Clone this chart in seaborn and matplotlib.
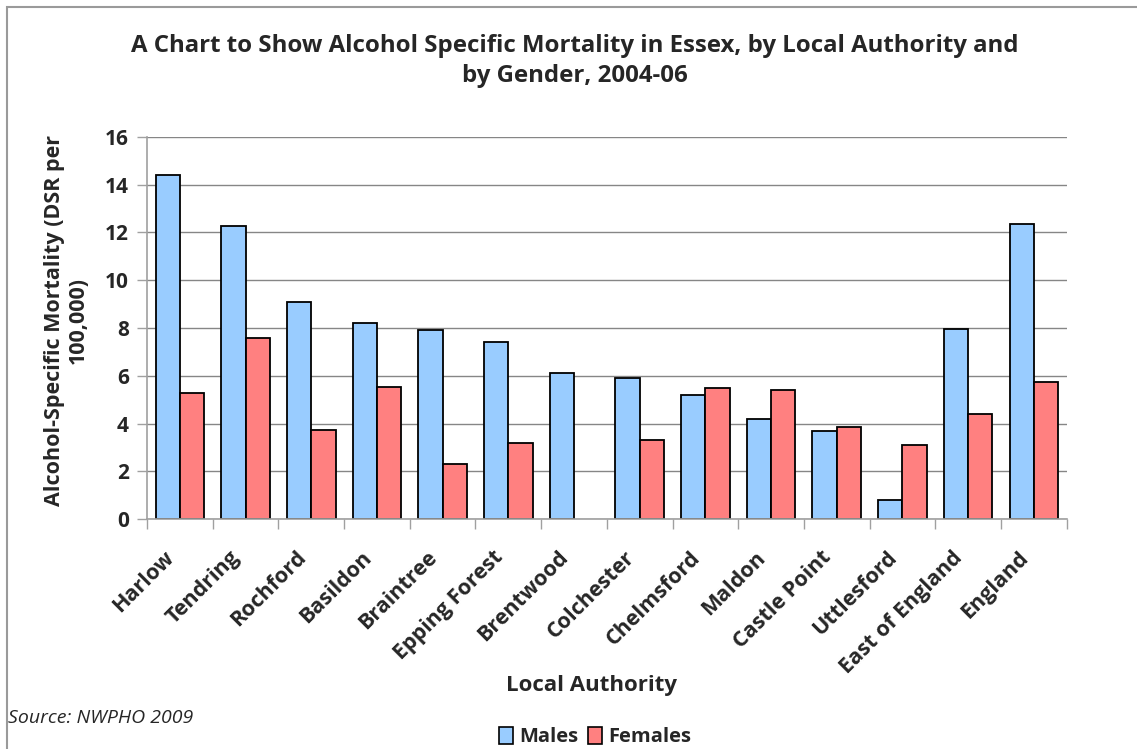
import numpy as np
import pandas as pd
import matplotlib
matplotlib.use("Agg")
import matplotlib.pyplot as plt
from matplotlib.patches import Rectangle, Patch
from matplotlib.ticker import FixedLocator
from matplotlib.transforms import ScaledTranslation
import seaborn as sns

authorities = ["Harlow", "Tendring", "Rochford", "Basildon", "Braintree",
               "Epping Forest", "Brentwood", "Colchester", "Chelmsford",
               "Maldon", "Castle Point", "Uttlesford", "East of England",
               "England"]
males = [14.4, 12.25, 9.1, 8.2, 7.9, 7.4, 6.1, 5.9, 5.2, 4.2, 3.7, 0.8, 7.95, 12.35]
females = [5.3, 7.6, 3.75, 5.55, 2.3, 3.2, np.nan, 3.3, 5.5, 5.4, 3.85, 3.1, 4.4, 5.75]
genders = ["Males", "Females"]
gender_colors = ["#99CCFF", "#FF8080"]

df = pd.DataFrame({
    "Authority": authorities * 2,
    "Gender": ["Males"] * len(authorities) + ["Females"] * len(authorities),
    "Rate": males + females,
})

sns.set_theme(style="white")
plt.rcParams["font.family"] = ["Open Sans", "DejaVu Sans"]
plt.rcParams["font.weight"] = "bold"

fig = plt.figure(figsize=(11.37, 7.49), dpi=100)
ax = fig.add_axes([0.1293, 0.3067, 0.8089, 0.5108])

sns.barplot(data=df, x="Authority", y="Rate", hue="Gender", order=authorities,
            hue_order=genders, palette=gender_colors, width=0.74,
            edgecolor="black", linewidth=1.3, saturation=1, ax=ax, legend=False)

ax.set_xlim(-0.5, len(authorities) - 0.5)
ax.set_ylim(0, 16)
ax.set_yticks(np.arange(0, 17, 2))
ax.yaxis.grid(True, color="#868686", linewidth=1.0)
ax.set_axisbelow(True)

for side in ["top", "right"]:
    ax.spines[side].set_visible(False)
for side in ["left", "bottom"]:
    ax.spines[side].set_color("#a0a0a0")
    ax.spines[side].set_linewidth(1.2)

ax.tick_params(axis="y", which="major", left=True, length=7, width=1.0,
               color="#a0a0a0", labelsize=15, pad=6)
ax.tick_params(axis="x", which="major", bottom=False, length=0, labelsize=15.5, pad=2)
ax.xaxis.set_minor_locator(FixedLocator(np.arange(-0.5, len(authorities), 1.0)))
ax.tick_params(axis="x", which="minor", bottom=True, length=7, width=1.0,
               color="#a0a0a0")

for lab in ax.get_yticklabels():
    lab.set_fontweight("bold")
ax.set_xticks(range(len(authorities)))
ax.set_xticklabels(authorities, rotation=45, ha="right", rotation_mode="anchor",
                   fontweight="bold", fontsize=15.5)
for lab in ax.get_xticklabels():
    lab.set_transform(lab.get_transform() + ScaledTranslation(-0.16, -0.25, fig.dpi_scale_trans))

ax.set_xlabel("")
ax.set_ylabel("")
fig.text(0.0585, 1 - 321 / 749, "Alcohol-Specific Mortality (DSR per\n100,000)",
         rotation=90, ha="center", va="center", fontsize=15.5,
         fontweight="bold", linespacing=1.2)
fig.text(592 / 1137, 1 - 685 / 749, "Local Authority", ha="center", va="center",
         fontsize=16, fontweight="bold")

fig.text(575 / 1137, 1 - 46 / 749, "A Chart to Show Alcohol Specific Mortality in Essex, by Local Authority and",
         ha="center", va="center", fontsize=17.3, fontweight="bold")
fig.text(575 / 1137, 1 - 76 / 749, "by Gender, 2004-06",
         ha="center", va="center", fontsize=17.3, fontweight="bold")

fig.text(8 / 1137, 1 - 718 / 749, "Source: NWPHO 2009", ha="left", va="center",
         fontsize=14, style="italic", fontweight="normal")

handles = [Patch(facecolor=c, edgecolor="black", linewidth=1.2) for c in gender_colors]
leg = fig.legend(handles, genders, loc="center", bbox_to_anchor=(595 / 1137, 1 - 737 / 749),
                 ncol=2, frameon=False, fontsize=14.5, handlelength=0.7,
                 handleheight=0.9, handletextpad=0.3, columnspacing=0.5)
for t in leg.get_texts():
    t.set_fontweight("bold")

# outer chart frame
fig.add_artist(Rectangle((7 / 1137, -0.05), 1.2, 1 - 7 / 749 + 0.05,
                         transform=fig.transFigure, fill=False,
                         edgecolor="#9a9a9a", linewidth=1.5))

fig.savefig("out.png", dpi=100, facecolor="white")
